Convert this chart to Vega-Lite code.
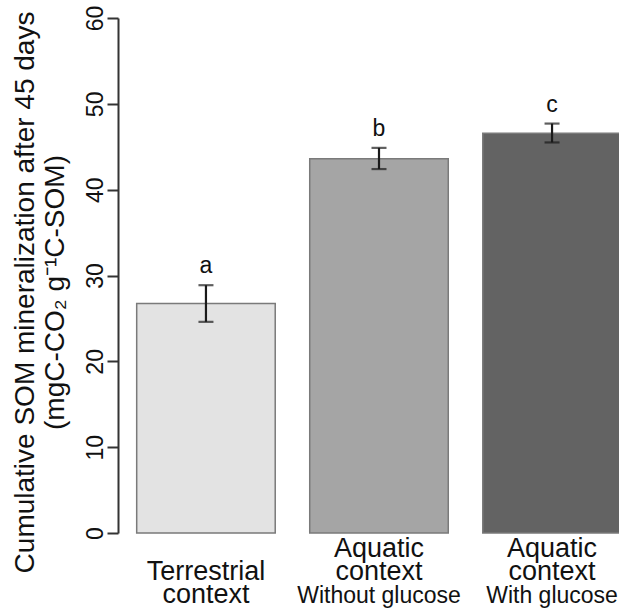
{
  "$schema": "https://vega.github.io/schema/vega-lite/v6.json",
  "width": 501,
  "height": 515,
  "autosize": {"type": "none"},
  "padding": {"left": 118, "top": 18, "right": 0, "bottom": 79},
  "config": {
    "font": "Liberation Sans",
    "view": {"stroke": null},
    "axis": {"grid": false}
  },
  "data": {
    "values": [
      {"group": "Terrestrial", "mean": 26.74, "lo": 24.6, "hi": 28.87, "letter": "a"},
      {"group": "Without glucose", "mean": 43.6, "lo": 42.4, "hi": 44.87, "letter": "b"},
      {"group": "With glucose", "mean": 46.58, "lo": 45.5, "hi": 47.7, "letter": "c"}
    ]
  },
  "resolve": {"axis": {"x": "independent"}},
  "layer": [
    {
      "mark": {"type": "bar", "stroke": "#7a7a7a", "strokeWidth": 1.5},
      "encoding": {
        "x": {
          "field": "group", "type": "nominal", "sort": null,
          "scale": {"type": "band", "domain": ["Terrestrial", "Without glucose", "With glucose"], "range": [0, 522], "paddingInner": 0.1994, "paddingOuter": 0.108},
          "axis": {
            "orient": "bottom", "title": null, "domain": false, "ticks": false,
            "labelAngle": 0, "labelFontSize": 27, "labelColor": "#111", "labelPadding": 2,
            "labelBaseline": "top", "labelLineHeight": 23, "labelOverlap": false, "labelBound": false,
            "labelExpr": "datum.value == 'Terrestrial' ? [' ', 'Terrestrial', 'context'] : ['Aquatic', 'context']"
          }
        },
        "y": {
          "field": "mean", "type": "quantitative",
          "scale": {"domain": [0, 60], "nice": false},
          "axis": {
            "values": [0, 10, 20, 30, 40, 50, 60],
            "domainColor": "#333", "domainWidth": 2,
            "tickColor": "#333", "tickWidth": 2, "tickSize": 11,
            "labelAngle": -90, "labelAlign": "center", "labelBaseline": "alphabetic",
            "labelFontSize": 23, "labelColor": "#111", "labelPadding": 5,
            "title": ["Cumulative SOM mineralization after 45 days", "(mgC-CO₂ g⁻¹C-SOM)"],
            "titleFontSize": 28, "titleFontWeight": "normal", "titleColor": "#111",
            "titleAngle": -90, "titleBaseline": "alphabetic", "titleAlign": "center",
            "titleX": -85, "titleY": 274, "titleLineHeight": 30
          }
        },
        "color": {
          "field": "group", "type": "nominal", "legend": null,
          "scale": {"domain": ["Terrestrial", "Without glucose", "With glucose"], "range": ["#e3e3e3", "#a5a5a5", "#636363"]}
        }
      }
    },
    {
      "mark": {"type": "rule", "color": "#1a1a1a", "strokeWidth": 2.2},
      "encoding": {
        "x": {
          "field": "group", "type": "nominal", "sort": null,
          "axis": {
            "orient": "bottom", "title": null, "domain": false, "ticks": false,
            "labelAngle": 0, "labelFontSize": 23, "labelColor": "#111", "labelPadding": 51,
            "labelBaseline": "top", "labelOverlap": false, "labelBound": false,
            "labelExpr": "datum.value == 'Terrestrial' ? '' : datum.value"
          }
        },
        "y": {"field": "lo", "type": "quantitative"},
        "y2": {"field": "hi"}
      }
    },
    {
      "mark": {"type": "tick", "color": "#1a1a1a", "thickness": 2.2, "size": 15},
      "encoding": {
        "x": {"field": "group", "type": "nominal", "sort": null, "axis": null},
        "y": {"field": "lo", "type": "quantitative"}
      }
    },
    {
      "mark": {"type": "tick", "color": "#1a1a1a", "thickness": 2.2, "size": 15},
      "encoding": {
        "x": {"field": "group", "type": "nominal", "sort": null, "axis": null},
        "y": {"field": "hi", "type": "quantitative"}
      }
    },
    {
      "mark": {"type": "text", "fontSize": 23, "color": "#111", "baseline": "alphabetic", "dy": -12},
      "encoding": {
        "x": {"field": "group", "type": "nominal", "sort": null, "axis": null},
        "y": {"field": "hi", "type": "quantitative"},
        "text": {"field": "letter"}
      }
    }
  ]
}
